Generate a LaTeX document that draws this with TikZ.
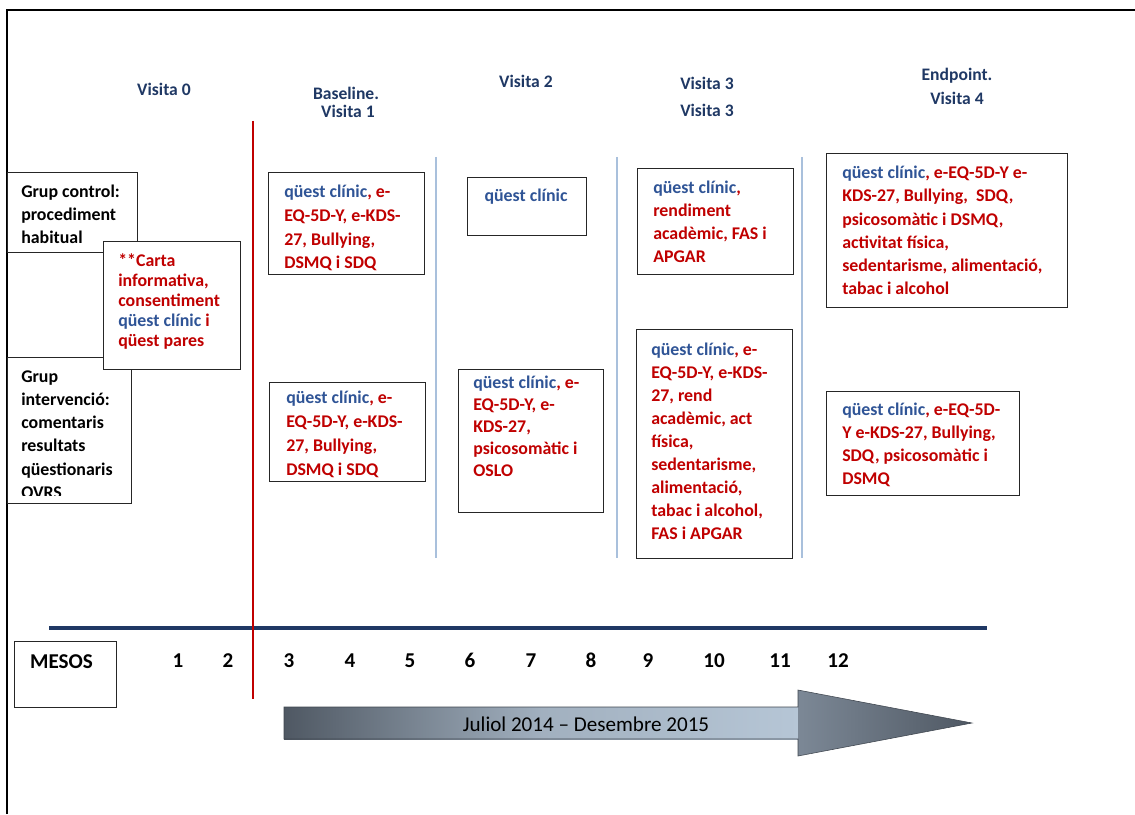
\documentclass[tikz,border=0pt]{standalone}
\usepackage{fontspec}
\setmainfont{Carlito}
\usetikzlibrary{calc}
\definecolor{navy}{HTML}{1F3864}
\definecolor{qblue}{HTML}{2F5496}
\definecolor{dred}{HTML}{C00000}
\definecolor{sepblue}{HTML}{A9C0DC}
\definecolor{boxline}{HTML}{262626}
\definecolor{arrdark}{HTML}{4F5863}
\definecolor{arrlight}{HTML}{B6C6D6}
\definecolor{arrmid}{HTML}{7C8896}
\newlength\pxu
\setlength\pxu{0.025cm}
\newcommand{\qb}[1]{\textcolor{qblue}{#1}}
\newcommand{\tp}{\rule{0pt}{11pt}}
\begin{document}
\begin{tikzpicture}[x=0.025cm,y=-0.025cm,
  box/.style={draw=boxline,line width=1pt,fill=white,anchor=north west,inner sep=0pt},
  hdr/.style={font=\fontsize{12.5}{15}\selectfont\bfseries,text=navy,anchor=base,inner sep=0pt},
  txt/.style={font=\fontsize{12.7}{#1}\selectfont\bfseries,align=left,anchor=north west,inner sep=0pt,text=dred},
  txt/.default={16.3},
  num/.style={font=\fontsize{15}{17}\selectfont\bfseries,anchor=base,inner sep=0pt},
  sep/.style={draw=sepblue,line width=1pt},
]
\useasboundingbox (0,0) rectangle (1135,814);
% frame
\coordinate (f1) at (7,814);
\coordinate (f2) at (7,10);
\coordinate (f3) at (1135,10);
\draw[line width=1.5pt] (f1) -- (f2) -- (f3);

% headers
\node[hdr] (h0) at (164,96) {Visita 0};
\node[hdr] (h1a) at (346,100) {Baseline.};
\node[hdr] (h1b) at (348,118) {Visita 1};
\node[hdr] (h2) at (526,88) {Visita 2};
\node[hdr] (h3a) at (707,90) {Visita 3};
\node[hdr] (h3b) at (707,117) {Visita 3};
\node[hdr] (h4a) at (957,81) {Endpoint.};
\node[hdr] (h4b) at (957,105) {Visita 4};

% separators
\coordinate (s1t) at (436,157); \coordinate (s1b) at (436,558);
\coordinate (s2t) at (617,157); \coordinate (s2b) at (617,558);
\coordinate (s3t) at (802,157); \coordinate (s3b) at (802,558);
\draw[sep] (s1t) -- (s1b);
\draw[sep] (s2t) -- (s2b);
\draw[sep] (s3t) -- (s3b);

% group boxes
\node[box,minimum width=130\pxu,minimum height=80\pxu] (gc) at (7,172) {};
\node[txt,text=black] (gct) at (21,181.5) {\tp Grup control:\\procediment\\habitual};
\node[box,minimum width=124\pxu,minimum height=146\pxu] (gi) at (7,357) {};
\begin{scope}
\clip (7,357) rectangle (131,495);
\node[txt=16.5,text=black] (git) at (21,366.5) {\tp Grup\\intervenció:\\comentaris\\resultats\\qüestionaris\\OVRS};
\end{scope}
\node[box,minimum width=137\pxu,minimum height=128\pxu] (carta) at (103,241) {};
\node[txt=14.2] (cartat) at (118,250.5) {\tp **Carta\\informativa,\\consentiment\\\qb{qüest clínic} i\\qüest pares};

% baseline
\node[box,minimum width=156\pxu,minimum height=102\pxu] (b1t) at (268,172) {};
\node[txt=17] (b1tt) at (284,181.5) {\tp\qb{qüest clínic}, e-\\EQ-5D-Y, e-KDS-\\27, Bullying,\\DSMQ i SDQ};
\node[box,minimum width=156\pxu,minimum height=99\pxu] (b1b) at (269,382) {};
\node[txt=17] (b1bt) at (286,388) {\tp\qb{qüest clínic}, e-\\EQ-5D-Y, e-KDS-\\27, Bullying,\\DSMQ i SDQ};

% visita 2
\node[box,minimum width=119\pxu,minimum height=58\pxu] (v2t) at (467,177) {};
\node[txt,text=qblue,anchor=north] (v2tt) at (526,186) {\tp qüest clínic};
\node[box,minimum width=145\pxu,minimum height=143\pxu] (v2b) at (458,369) {};
\node[txt=15.6] (v2bt) at (473,373) {\tp\qb{qüest clínic}, e-\\EQ-5D-Y, e-\\KDS-27,\\psicosomàtic i\\OSLO};

% visita 3
\node[box,minimum width=156\pxu,minimum height=106\pxu] (v3t) at (637,168) {};
\node[txt] (v3tt) at (653,178) {\tp\qb{qüest clínic},\\rendiment\\acadèmic, FAS i\\APGAR};
\node[box,minimum width=156\pxu,minimum height=229\pxu] (v3b) at (636,329) {};
\node[txt] (v3bt) at (651,340) {\tp\qb{qüest clínic}, e-\\EQ-5D-Y, e-KDS-\\27, rend\\acadèmic, act\\física,\\sedentarisme,\\alimentació,\\tabac i alcohol,\\FAS i APGAR};

% visita 4
\node[box,minimum width=241\pxu,minimum height=154\pxu] (v4t) at (826,153) {};
\node[txt=16.5] (v4tt) at (842,163) {\tp\qb{qüest clínic}, e-EQ-5D-Y e-\\KDS-27, Bullying,\ \ SDQ,\\psicosomàtic i DSMQ,\\activitat física,\\sedentarisme, alimentació,\\tabac i alcohol};
\node[box,minimum width=193\pxu,minimum height=104\pxu] (v4b) at (826,391) {};
\node[txt=16.2] (v4bt) at (842,400) {\tp\qb{qüest clínic}, e-EQ-5D-\\Y e-KDS-27, Bullying,\\SDQ, psicosomàtic i\\DSMQ};

% time axis
\coordinate (al) at (49,628);
\coordinate (ar) at (987,628);
\draw[navy,line width=2.6pt] (al) -- (ar);
\coordinate (rt) at (253,121);
\coordinate (rb) at (253,699);
\draw[dred,line width=2pt] (rt) -- (rb);

% months
\node[box,minimum width=102\pxu,minimum height=66\pxu] (mesos) at (14,641) {};
\node[num] (mesost) at (61.5,668) {MESOS};
\node[num] (m1) at (178,667) {1};
\node[num] (m2) at (228,667) {2};
\node[num] (m3) at (289,667) {3};
\node[num] (m4) at (350,667) {4};
\node[num] (m5) at (410,667) {5};
\node[num] (m6) at (470,667) {6};
\node[num] (m7) at (531,667) {7};
\node[num] (m8) at (591,667) {8};
\node[num] (m9) at (648,667) {9};
\node[num] (m10) at (714,667) {10};
\node[num] (m11) at (780,667) {11};
\node[num] (m12) at (838,667) {12};

% big arrow
\shade[left color=arrdark,right color=arrlight,middle color=arrlight!80!arrdark]
  (284,707) rectangle (799,739);
\shade[left color=arrmid,right color=arrdark]
  (798,690) -- (972,723) -- (798,756) -- cycle;
\draw[arrdark!80!black,line width=0.4pt]
  (284,707) -- (798,707) -- (798,690) -- (972,723) -- (798,756) -- (798,739) -- (284,739) -- cycle;
\node[font=\fontsize{15}{18}\selectfont,inner sep=0pt] (period) at (586,724) {Juliol 2014 – Desembre 2015};
\end{tikzpicture}
\end{document}
